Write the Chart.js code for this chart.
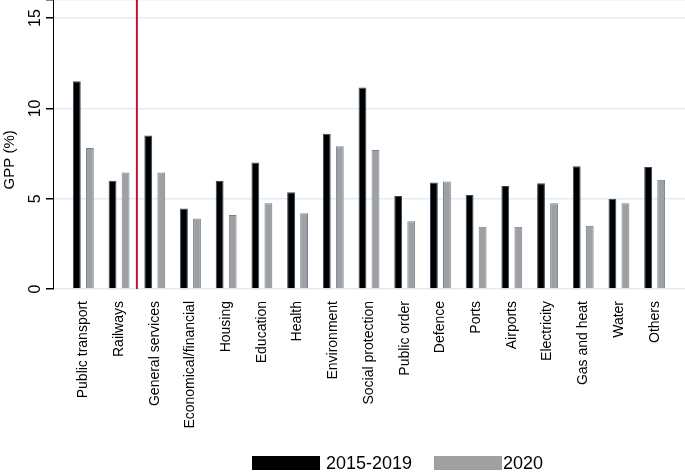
<!DOCTYPE html>
<html>
<head>
<meta charset="utf-8">
<script src="https://cdn.jsdelivr.net/npm/chart.js@4/dist/chart.umd.min.js"></script>
<style>
  html, body { margin: 0; padding: 0; background: #fff; }
  #wrap { width: 685px; height: 472px; position: relative; }
</style>
</head>
<body>
<div id="wrap"><canvas id="gppChart"></canvas></div>
<script>
const categories = ['Public transport', 'Railways', 'General services', 'Economical/financial', 'Housing',
    'Education', 'Health', 'Environment', 'Social protection', 'Public order', 'Defence', 'Ports',
    'Airports', 'Electricity', 'Gas and heat', 'Water', 'Others'];
const gpp2015to2019 = [11.5, 6.0, 8.5, 4.45, 6.0, 7.0, 5.35, 8.6, 11.15, 5.15, 5.9, 5.2, 5.7, 5.85, 6.8, 5.0, 6.75];
const gpp2020 = [7.8, 6.45, 6.45, 3.9, 4.1, 4.75, 4.2, 7.9, 7.7, 3.75, 5.95, 3.45, 3.45, 4.75, 3.5, 4.75, 6.05];
const yTicks = [0, 5, 10, 15];

const FONT = '"Liberation Sans", Arial, sans-serif';

// linha vertical vermelha, rótulos verticais do eixo y e legenda
const extrasPlugin = {
    id: 'extras',
    afterDatasetsDraw(chart) {
        const ctx = chart.ctx;
        const x = chart.scales.x;
        const y = chart.scales.y;
        const area = chart.chartArea;

        const sepX = x.getPixelForValue(1.5);
        ctx.save();
        ctx.strokeStyle = '#c4123a';
        ctx.lineWidth = 2;
        ctx.beginPath();
        ctx.moveTo(sepX, area.top);
        ctx.lineTo(sepX, area.bottom);
        ctx.stroke();

        ctx.fillStyle = '#000';
        ctx.font = '16px ' + FONT;
        ctx.textAlign = 'center';
        ctx.textBaseline = 'middle';
        yTicks.forEach(v => {
            ctx.save();
            ctx.translate(36, y.getPixelForValue(v));
            ctx.rotate(-Math.PI / 2);
            ctx.fillText(String(v), 0, 0);
            ctx.restore();
        });

        ctx.save();
        ctx.font = '15px ' + FONT;
        ctx.translate(10, y.getPixelForValue(7.15));
        ctx.rotate(-Math.PI / 2);
        ctx.fillText('GPP (%)', 0, 0);
        ctx.restore();

        // legenda
        const items = [
            { text: '2015-2019', color: '#000000', bx: 252, tx: 326 },
            { text: '2020', color: '#a0a0a0', bx: 434, tx: 503 }
        ];
        ctx.font = '18px ' + FONT;
        ctx.textAlign = 'left';
        items.forEach(it => {
            ctx.fillStyle = it.color;
            ctx.fillRect(it.bx, 456, 68, 14);
            ctx.fillStyle = '#000';
            ctx.fillText(it.text, it.tx, 464);
        });
        ctx.restore();
    }
};

const toPoints = arr => arr.map((v, i) => ({ x: i, y: v }));

new Chart(document.getElementById('gppChart'), {
    type: 'bar',
    data: {
        datasets: [{
            label: '2015-2019',
            data: toPoints(gpp2015to2019),
            backgroundColor: '#000000',
            borderColor: '#34485c',
            borderWidth: 1,
            categoryPercentage: 0.73,
            barPercentage: 0.6
        }, {
            label: '2020',
            data: toPoints(gpp2020),
            backgroundColor: '#a0a0a0',
            borderColor: '#6d8298',
            borderWidth: 1,
            categoryPercentage: 0.73,
            barPercentage: 0.6
        }]
    },
    options: {
        responsive: true,
        maintainAspectRatio: false,
        animation: false,
        layout: { padding: 0 },
        plugins: {
            legend: { display: false },
            tooltip: { enabled: false }
        },
        scales: {
            x: {
                type: 'linear',
                min: -0.85,
                max: 16.85,
                offset: false,
                grid: { display: false },
                border: { display: false },
                ticks: {
                    stepSize: 1,
                    includeBounds: false,
                    autoSkip: false,
                    maxRotation: 90,
                    minRotation: 90,
                    padding: 4,
                    color: '#000',
                    font: { family: FONT, size: 14 },
                    callback: v => Number.isInteger(v) && categories[v] ? categories[v] : ''
                },
                afterFit: s => { s.height = 183; }
            },
            y: {
                min: 0,
                max: 16,
                grid: {
                    color: '#e4ecf3',
                    lineWidth: 1.5,
                    tickColor: '#000',
                    tickLength: 7,
                    drawTicks: true
                },
                border: { display: true, color: '#000', width: 1 },
                ticks: {
                    stepSize: 5,
                    display: false
                },
                afterFit: s => { s.width = 53; }
            }
        }
    },
    plugins: [extrasPlugin]
});
</script>
</body>
</html>
